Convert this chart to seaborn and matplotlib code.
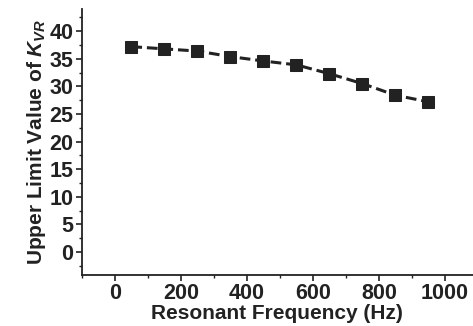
import matplotlib
matplotlib.use("Agg")
import matplotlib.pyplot as plt
import seaborn as sns
import pandas as pd
from matplotlib.ticker import MultipleLocator

# data
freq = [50, 150, 250, 350, 450, 550, 650, 750, 850, 950]
kvr_upper = [37.2, 36.8, 36.4, 35.4, 34.6, 33.9, 32.3, 30.5, 28.4, 27.2]

df = pd.DataFrame({"freq": freq, "kvr": kvr_upper})

sns.set_style("ticks")
plt.rcParams["font.family"] = ["Liberation Sans", "DejaVu Sans"]
plt.rcParams["font.weight"] = "bold"
plt.rcParams["mathtext.fontset"] = "custom"
plt.rcParams["mathtext.rm"] = "Liberation Sans:bold"
plt.rcParams["mathtext.it"] = "Liberation Sans:bold:italic"
plt.rcParams["mathtext.bf"] = "Liberation Sans:bold"

ink = "#222222"

fig = plt.figure(figsize=(4.73, 3.26), dpi=100)
ax = fig.add_axes([0.173, 0.156, 0.827, 0.816])

sns.lineplot(data=df, x="freq", y="kvr", ax=ax, color=ink, linewidth=2.2,
             linestyle=(0, (3.5, 1.6)), marker="s", markersize=8.5,
             markeredgecolor=ink, markerfacecolor=ink)

ax.set_xlim(-100, 1085)
ax.set_ylim(-4.2, 44)
ax.xaxis.set_major_locator(MultipleLocator(200))
ax.xaxis.set_minor_locator(MultipleLocator(100))
ax.yaxis.set_major_locator(MultipleLocator(5))
ax.yaxis.set_minor_locator(MultipleLocator(2.5))

sns.despine(ax=ax)
for s in ["left", "bottom"]:
    ax.spines[s].set_linewidth(1.3)
    ax.spines[s].set_color(ink)

ax.tick_params(axis="both", which="major", direction="out", length=4, width=1.2,
               colors=ink, labelsize=15.5, pad=2)
ax.tick_params(axis="both", which="minor", direction="out", length=2.5, width=1.0,
               colors=ink)
for lab in ax.get_xticklabels() + ax.get_yticklabels():
    lab.set_fontweight("bold")

ax.set_xlabel("Resonant Frequency (Hz)", fontsize=15, fontweight="bold", color=ink, labelpad=0)
ax.set_ylabel("Upper Limit Value of $\\mathit{K}_{\\mathit{VR}}$", fontsize=15,
              fontweight="bold", color=ink, labelpad=1)

fig.savefig("out.png", dpi=100)
